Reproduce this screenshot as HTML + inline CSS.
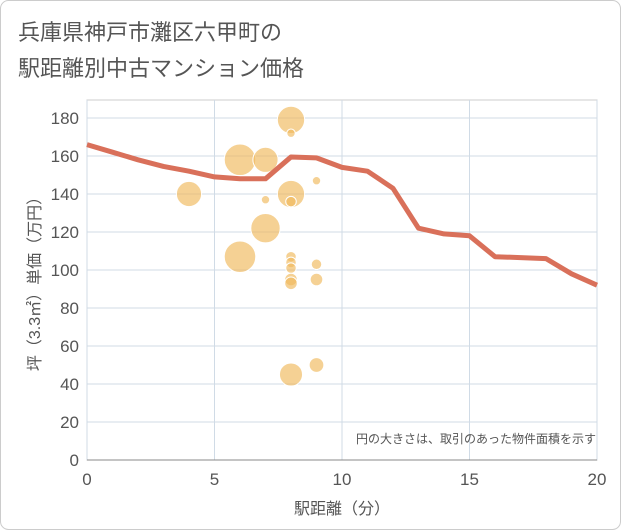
<!DOCTYPE html>
<html><head><meta charset="utf-8"><style>
body{margin:0;background:#fff;}
svg{display:block;font-family:"Liberation Sans","Noto Sans CJK JP",sans-serif;}
</style></head><body>
<svg width="621" height="530">
<rect x="0.5" y="0.5" width="620" height="529" rx="8" fill="#fff" stroke="#ccc"/>
<text x="18" y="40" font-size="22" fill="#555">兵庫県神戸市灘区六甲町の</text>
<text x="18" y="76" font-size="22" fill="#555">駅距離別中古マンション価格</text>
<g id="grid"></g><g id="axes"></g><g id="bubbles"></g><g id="line"></g>
<text x="596" y="443" font-size="12" fill="#555" text-anchor="end">円の大きさは、取引のあった物件面積を示す</text>
<text x="342" y="514" font-size="16" fill="#555" text-anchor="middle">駅距離（分）</text>
<text transform="translate(40,280) rotate(-90)" font-size="16" fill="#555" text-anchor="middle">坪（3.3㎡）単価（万円）</text>
</svg>
<script>
const xTicks=[0,5,10,15,20];
const yTicks=[0,20,40,60,80,100,120,140,160,180];
const lineX=[0,1,2,3,4,5,6,7,8,9,10,11,12,13,14,15,16,17,18,19,20];
const lineY=[166,162,158,154.5,152,149,148,148,159.5,159,154,152,143,122,119,118,107,106.5,106,98,92];
const bubbleX=[4,6,7,8,8,8,8,7,7,6,8,8,8,8,8,8,9,9,9,9];
const bubbleY=[140,158,158,179,172,140,136,137,122,107,107,104,101,95,93,45,147,103,95,50];
const bubbleR=[12,15,12,13,4,13,5,4,14,15,5,5,5,6,6,11,4,5,6,7];
const NS="http://www.w3.org/2000/svg";
const X=v=>87+v*25.5, Y=v=>460-v*1.9;
function mk(t,p,a){const e=document.createElementNS(NS,t);for(const k in a)e.setAttribute(k,a[k]);p.appendChild(e);return e;}
const g=document.getElementById('grid'),ax=document.getElementById('axes'),bb=document.getElementById('bubbles'),ln=document.getElementById('line');
mk('rect',g,{x:87,y:100,width:510,height:360,fill:'none',stroke:'#ccc'});
yTicks.forEach(v=>{
 const l=mk('line',g,{x1:87,x2:597,y1:Y(v),y2:Y(v),stroke:'#d0dbe6'});
 
 
 const t=mk('text',ax,{x:79,y:Y(v)+6,'font-size':17,fill:'#555','text-anchor':'end'});t.textContent=v;
 
 
});
xTicks.forEach(v=>{
 const l=mk('line',g,{x1:X(v),x2:X(v),y1:100,y2:460,stroke:'#d0dbe6'});
 
 
 const t=mk('text',ax,{x:X(v),y:485,'font-size':17,fill:'#555','text-anchor':'middle'});t.textContent=v;
 
 
});
mk('line',ax,{x1:87,x2:597,y1:460,y2:460,stroke:'#888'});
bubbleX.forEach((v,i)=>{
 const c=mk('circle',bb,{cx:X(v),cy:Y(bubbleY[i]),r:bubbleR[i]*1.05,fill:'rgba(240,185,90,0.65)',stroke:'#fff','stroke-width':1});
 
 
});
const p=mk('polyline',ln,{points:lineX.map((v,i)=>X(v)+','+Y(lineY[i])).join(' '),fill:'none',stroke:'#d9705a','stroke-width':5,'stroke-linejoin':'round'});


</script>
</body></html>
